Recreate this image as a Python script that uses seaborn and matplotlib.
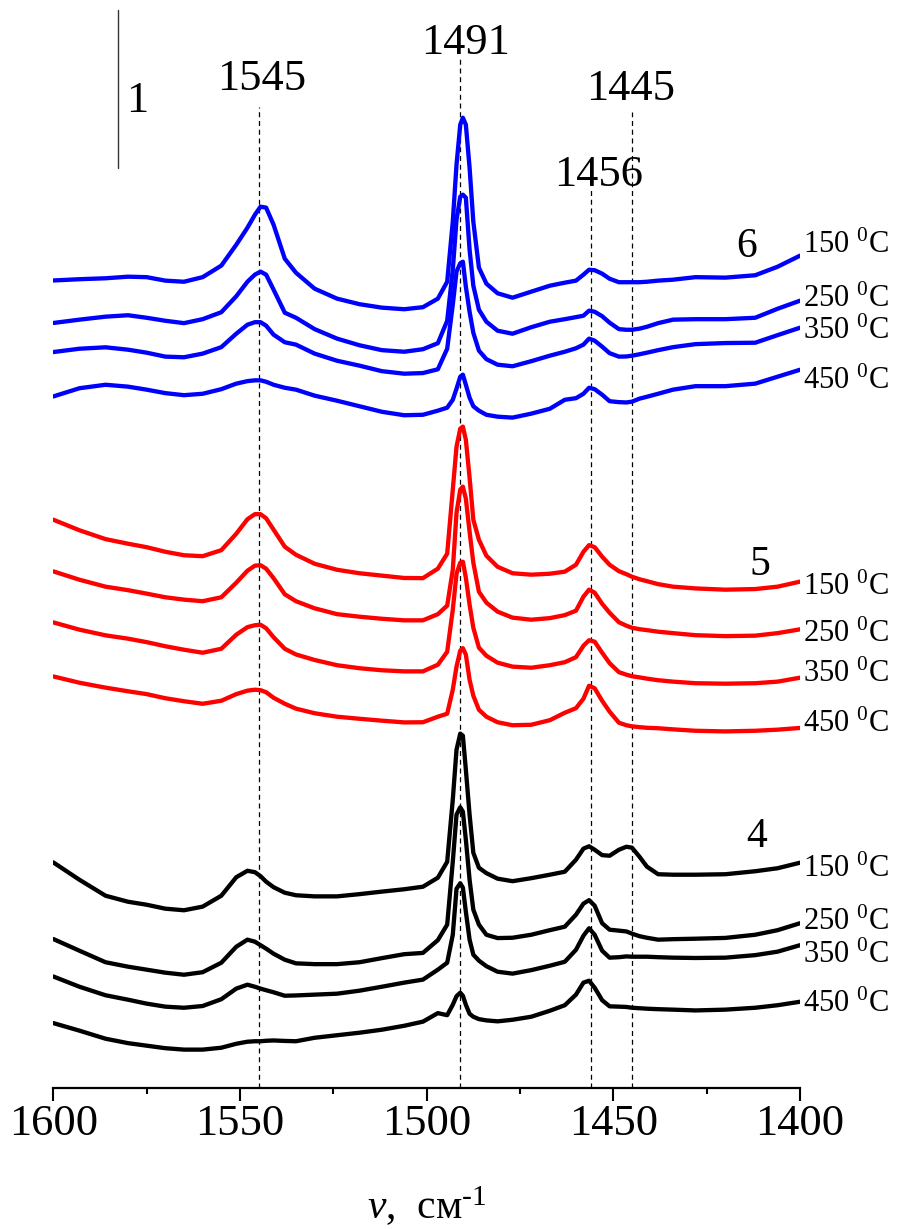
import numpy as np
import pandas as pd
import matplotlib
matplotlib.use("Agg")
import matplotlib.pyplot as plt
import seaborn as sns

# ---------------- data (absorbance, stacked as in the figure) ----------------
wavenumber = [1600, 1593, 1586, 1580, 1575, 1570, 1565, 1560, 1555, 1551, 1548, 1546,
              1544.5, 1543, 1541, 1538, 1535, 1530, 1524, 1518, 1512, 1506, 1501, 1497,
              1494.5, 1493, 1492, 1491, 1490.3, 1489.5, 1488.5, 1487.5, 1486, 1484, 1481,
              1477, 1472, 1467, 1463, 1460, 1458, 1456.5, 1455, 1453, 1451, 1448.5, 1446.5,
              1445, 1443, 1441, 1438, 1434, 1428, 1420, 1412, 1406, 1400]

# sample 6 (blue)
s6_150 = [5.109, 5.117, 5.123, 5.133, 5.130, 5.108, 5.101, 5.130, 5.203, 5.335, 5.443, 5.525,
          5.576, 5.570, 5.462, 5.247, 5.158, 5.057, 4.994, 4.959, 4.937, 4.927, 4.940, 4.994,
          5.101, 5.481, 5.842, 6.095, 6.139, 6.095, 5.823, 5.481, 5.190, 5.089, 5.028,
          5.000, 5.038, 5.076, 5.095, 5.108, 5.146, 5.177, 5.174, 5.152, 5.120, 5.098, 5.098,
          5.098, 5.098, 5.101, 5.108, 5.114, 5.130, 5.127, 5.142, 5.196, 5.266]
s6_250 = [4.840, 4.861, 4.880, 4.889, 4.873, 4.854, 4.839, 4.864, 4.908, 5.009, 5.101, 5.146,
          5.165, 5.146, 5.051, 4.905, 4.873, 4.801, 4.741, 4.699, 4.668, 4.658, 4.674, 4.712,
          4.854, 5.177, 5.494, 5.639, 5.652, 5.633, 5.304, 5.076, 4.924, 4.848, 4.791,
          4.772, 4.813, 4.848, 4.864, 4.877, 4.886, 4.918, 4.911, 4.883, 4.842, 4.801, 4.797,
          4.797, 4.804, 4.816, 4.839, 4.861, 4.864, 4.864, 4.873, 4.930, 4.981]
s6_350 = [4.656, 4.677, 4.686, 4.671, 4.652, 4.627, 4.623, 4.646, 4.687, 4.772, 4.829, 4.845,
          4.845, 4.823, 4.766, 4.718, 4.703, 4.646, 4.601, 4.570, 4.535, 4.519, 4.523, 4.547,
          4.677, 4.956, 5.165, 5.218, 5.228, 5.070, 4.911, 4.778, 4.665, 4.611, 4.576,
          4.566, 4.598, 4.633, 4.658, 4.680, 4.703, 4.741, 4.728, 4.690, 4.649, 4.627, 4.628,
          4.633, 4.642, 4.652, 4.668, 4.687, 4.706, 4.713, 4.715, 4.763, 4.810]
s6_450 = [4.375, 4.427, 4.449, 4.437, 4.418, 4.396, 4.383, 4.392, 4.421, 4.456, 4.472, 4.477,
          4.477, 4.468, 4.449, 4.430, 4.418, 4.380, 4.348, 4.313, 4.278, 4.256, 4.259, 4.285,
          4.304, 4.354, 4.424, 4.500, 4.513, 4.449, 4.367, 4.313, 4.285, 4.259, 4.247,
          4.241, 4.266, 4.297, 4.354, 4.364, 4.392, 4.430, 4.421, 4.386, 4.345, 4.339, 4.337,
          4.342, 4.361, 4.373, 4.392, 4.418, 4.440, 4.440, 4.456, 4.500, 4.544]

# sample 5 (red)
s5_150 = [3.595, 3.528, 3.472, 3.443, 3.421, 3.392, 3.370, 3.364, 3.402, 3.506, 3.598, 3.630,
          3.630, 3.604, 3.532, 3.424, 3.373, 3.316, 3.278, 3.256, 3.241, 3.226, 3.225, 3.285,
          3.380, 3.785, 4.057, 4.171, 4.184, 4.101, 3.861, 3.595, 3.468, 3.367, 3.297,
          3.256, 3.247, 3.253, 3.266, 3.310, 3.392, 3.434, 3.421, 3.361, 3.310, 3.269, 3.250,
          3.234, 3.218, 3.206, 3.187, 3.171, 3.160, 3.152, 3.156, 3.171, 3.203]
s5_250 = [3.268, 3.215, 3.171, 3.149, 3.127, 3.104, 3.089, 3.079, 3.104, 3.196, 3.272, 3.304,
          3.307, 3.285, 3.225, 3.123, 3.079, 3.034, 2.997, 2.981, 2.968, 2.958, 2.958, 2.997,
          3.051, 3.278, 3.639, 3.785, 3.804, 3.728, 3.519, 3.323, 3.139, 3.070, 3.013,
          2.975, 2.962, 2.972, 2.991, 3.019, 3.108, 3.152, 3.133, 3.063, 3.006, 2.946, 2.924,
          2.911, 2.902, 2.896, 2.886, 2.877, 2.864, 2.858, 2.861, 2.877, 2.901]
s5_350 = [2.945, 2.899, 2.863, 2.842, 2.820, 2.794, 2.772, 2.753, 2.778, 2.867, 2.915, 2.927,
          2.930, 2.908, 2.851, 2.778, 2.742, 2.707, 2.674, 2.655, 2.642, 2.635, 2.635, 2.677,
          2.759, 3.025, 3.253, 3.323, 3.329, 3.228, 3.057, 2.911, 2.785, 2.734, 2.690,
          2.665, 2.658, 2.674, 2.693, 2.725, 2.797, 2.832, 2.823, 2.753, 2.687, 2.630, 2.614,
          2.604, 2.597, 2.589, 2.579, 2.570, 2.560, 2.557, 2.560, 2.570, 2.595]
s5_450 = [2.603, 2.563, 2.532, 2.509, 2.491, 2.465, 2.446, 2.430, 2.449, 2.491, 2.513, 2.519,
          2.516, 2.503, 2.468, 2.430, 2.399, 2.370, 2.348, 2.335, 2.323, 2.312, 2.313, 2.348,
          2.367, 2.519, 2.665, 2.766, 2.782, 2.741, 2.582, 2.481, 2.392, 2.348, 2.313,
          2.294, 2.297, 2.326, 2.373, 2.402, 2.462, 2.544, 2.528, 2.449, 2.380, 2.310, 2.294,
          2.287, 2.282, 2.278, 2.275, 2.268, 2.259, 2.255, 2.259, 2.266, 2.277]

# sample 4 (black)
s4_150 = [1.426, 1.316, 1.215, 1.177, 1.158, 1.133, 1.123, 1.146, 1.215, 1.332, 1.373, 1.364,
          1.339, 1.304, 1.269, 1.234, 1.218, 1.211, 1.211, 1.225, 1.241, 1.256, 1.272, 1.329,
          1.430, 1.823, 2.139, 2.241, 2.228, 2.013, 1.728, 1.487, 1.392, 1.358, 1.323,
          1.307, 1.326, 1.348, 1.367, 1.443, 1.513, 1.528, 1.506, 1.472, 1.468, 1.506, 1.525,
          1.519, 1.462, 1.399, 1.351, 1.348, 1.348, 1.351, 1.370, 1.389, 1.424]
s4_250 = [0.941, 0.867, 0.794, 0.766, 0.747, 0.728, 0.715, 0.731, 0.791, 0.892, 0.937, 0.924,
          0.902, 0.880, 0.848, 0.810, 0.787, 0.782, 0.782, 0.794, 0.820, 0.845, 0.853, 0.934,
          1.032, 1.430, 1.728, 1.775, 1.747, 1.570, 1.316, 1.127, 1.032, 0.968, 0.947,
          0.949, 0.968, 0.997, 1.019, 1.095, 1.165, 1.187, 1.152, 1.041, 1.000, 0.994, 0.989,
          0.975, 0.959, 0.949, 0.937, 0.940, 0.943, 0.948, 0.968, 0.997, 1.041]
s4_350 = [0.704, 0.639, 0.585, 0.557, 0.532, 0.513, 0.506, 0.517, 0.560, 0.627, 0.652, 0.639,
          0.627, 0.617, 0.604, 0.582, 0.584, 0.589, 0.595, 0.614, 0.639, 0.665, 0.684, 0.747,
          0.791, 0.968, 1.259, 1.294, 1.266, 1.114, 0.937, 0.842, 0.804, 0.769, 0.734,
          0.722, 0.744, 0.772, 0.797, 0.873, 0.962, 1.009, 0.968, 0.867, 0.823, 0.826, 0.831,
          0.829, 0.829, 0.829, 0.826, 0.823, 0.821, 0.823, 0.839, 0.861, 0.902]
s4_450 = [0.409, 0.361, 0.310, 0.282, 0.266, 0.250, 0.241, 0.241, 0.253, 0.278, 0.291, 0.294,
          0.294, 0.297, 0.299, 0.296, 0.294, 0.316, 0.332, 0.348, 0.367, 0.392, 0.418, 0.472,
          0.459, 0.525, 0.579, 0.601, 0.582, 0.525, 0.468, 0.449, 0.434, 0.426, 0.420,
          0.430, 0.449, 0.487, 0.522, 0.589, 0.665, 0.677, 0.633, 0.554, 0.515, 0.513, 0.511,
          0.506, 0.503, 0.500, 0.497, 0.494, 0.489, 0.494, 0.506, 0.522, 0.544]

temperatures = ["150", "250", "350", "450"]
samples = ["6", "5", "4"]
sample_colors = {"6": "#0000ff", "5": "#ff0000", "4": "#000000"}
series = {
    "6": [s6_150, s6_250, s6_350, s6_450],
    "5": [s5_150, s5_250, s5_350, s5_450],
    "4": [s4_150, s4_250, s4_350, s4_450],
}

peak_positions = [1545, 1491, 1456, 1445]
peak_labels = ["1545", "1491", "1456", "1445"]
x_ticks = [1600, 1550, 1500, 1450, 1400]

# ---------------- long-form table for seaborn ----------------
rows = []
for s in samples:
    for t, vals in zip(temperatures, series[s]):
        for w, a in zip(wavenumber, vals):
            rows.append({"wavenumber": w, "absorbance": a,
                         "curve": f"{s}_{t}", "sample": s})
df = pd.DataFrame(rows)
palette = {f"{s}_{t}": sample_colors[s] for s in samples for t in temperatures}

# ---------------- style ----------------
sns.set_style("ticks")
plt.rcParams["font.family"] = ["Liberation Serif", "DejaVu Serif"]
plt.rcParams["mathtext.fontset"] = "custom"
plt.rcParams["mathtext.rm"] = "Liberation Serif"
plt.rcParams["mathtext.it"] = "Liberation Serif:italic"
plt.rcParams["lines.solid_joinstyle"] = "round"
plt.rcParams["lines.solid_capstyle"] = "round"
plt.rcParams["text.color"] = "black"
plt.rcParams["axes.labelcolor"] = "black"
plt.rcParams["xtick.color"] = "black"
plt.rcParams["axes.edgecolor"] = "black"

W, H = 899, 1229
fig = plt.figure(figsize=(W / 100, H / 100), dpi=100)
ax = fig.add_axes([53.3 / W, 1 - 1087.7 / H, (800 - 53.3) / W, 1087.7 / H])

sns.lineplot(data=df, x="wavenumber", y="absorbance", hue="curve", palette=palette,
             estimator=None, sort=False, legend=False, linewidth=3.1, ax=ax)

ax.set_xlim(1600, 1400)
ax.set_ylim(0, 1087.7 / 158)

# vertical dashed marker lines
dash_tops = [6.209, 6.525, 5.684, 6.177]
ax.vlines(peak_positions, 0, dash_tops, colors="black", linewidth=0.9,
          linestyles=(0, (4, 3)), zorder=1)

# peak labels
label_pos = [(1544.2, 6.297), (1489.7, 6.525), (1454.0, 5.690), (1445.5, 6.234)]
for lab, (xv, yv) in zip(peak_labels, label_pos):
    ax.text(xv, yv + 0.02, lab, ha="center", va="baseline", fontsize=32, clip_on=False)

# scale bar of 1 absorbance unit
ax.plot([1582.7, 1582.7], [5.823, 6.823], color="#333333", linewidth=1.0)
ax.text(1577.5, 6.177, "1", ha="center", va="baseline", fontsize=32)

# sample numbers
ax.text(1414.2, 5.259, "6", ha="center", va="baseline", fontsize=30)
ax.text(1410.7, 3.247, "5", ha="center", va="baseline", fontsize=30)
ax.text(1411.6, 1.525, "4", ha="center", va="baseline", fontsize=30)

# temperature labels on the right
temp_y = {
    "6": [5.285, 4.943, 4.741, 4.424],
    "5": [3.120, 2.823, 2.570, 2.253],
    "4": [1.335, 1.000, 0.791, 0.481],
}
for s in samples:
    for t, yv in zip(temperatures, temp_y[s]):
        ax.annotate(f"{t} $^{{0}}$C", xy=(1400, yv), xytext=(2, 0),
                    textcoords="offset points", ha="left", va="baseline",
                    fontsize=22, annotation_clip=False)

# axes styling
for sp in ["left", "top", "right"]:
    ax.spines[sp].set_visible(False)
ax.spines["bottom"].set_linewidth(1.6)
ax.set_yticks([])
ax.set_ylabel("")
ax.set_xticks(x_ticks)
ax.set_xticks(np.arange(1400, 1601, 25), minor=True)
ax.tick_params(axis="x", which="major", direction="out", length=9, width=1.5,
               labelsize=32, pad=3, colors="black")
ax.tick_params(axis="x", which="minor", direction="out", length=4.5, width=1.5,
               colors="black")
ax.set_xlabel(r"$\mathit{v}$,  см$^{\text{-1}}$", fontsize=30, labelpad=29)

fig.savefig("out.png", dpi=100)
